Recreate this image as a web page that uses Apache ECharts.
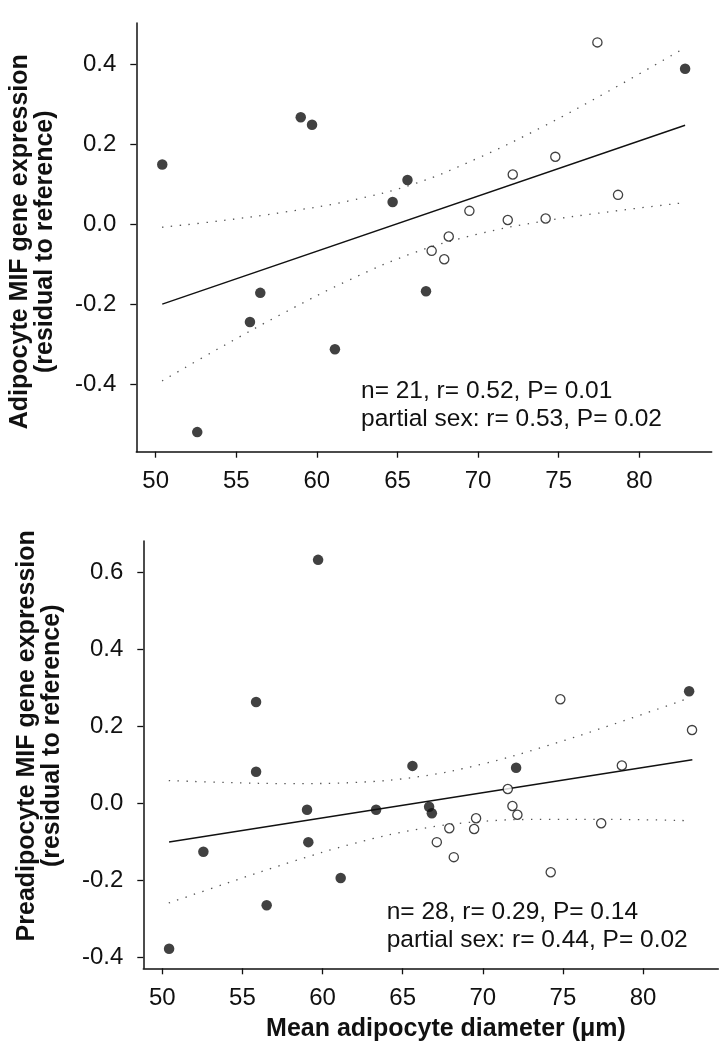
<!DOCTYPE html>
<html>
<head>
<meta charset="utf-8">
<script src="https://cdn.jsdelivr.net/npm/echarts@6/dist/echarts.min.js"></script>
<style>
html,body{margin:0;padding:0;background:#fff;}
#chart{width:722px;height:1050px;}
</style>
</head>
<body>
<div id="chart"></div>
<script>
// ---- tick labels ----
const xTicks = [50, 55, 60, 65, 70, 75, 80];
const topYTicks = [-0.4, -0.2, 0.0, 0.2, 0.4];
const botYTicks = [-0.4, -0.2, 0.0, 0.2, 0.4, 0.6];

// ---- top panel: adipocyte ----
const topFilledX = [50.41, 59.0, 59.7, 64.7, 56.49, 55.85, 61.12, 52.58, 65.62, 66.77, 82.84];
const topFilledY = [0.149, 0.267, 0.248, 0.055, -0.172, -0.245, -0.313, -0.52, 0.11, -0.168, 0.388];
const topOpenX = [77.40, 74.79, 72.15, 78.68, 69.46, 71.84, 74.19, 68.18, 67.12, 67.9];
const topOpenY = [0.454, 0.168, 0.124, 0.073, 0.033, 0.010, 0.014, -0.031, -0.067, -0.088];
const topFitX = [50.41, 82.84];
const topFitY = [-0.200, 0.247];
const topCiX = [50.4, 54, 58, 62, 66, 70, 74, 78, 82.5];
const topUpperY = [-0.008, 0.008, 0.030, 0.058, 0.100, 0.165, 0.243, 0.330, 0.433];
const topLowerY = [-0.392, -0.309, -0.221, -0.140, -0.072, -0.025, 0.007, 0.030, 0.052];

// ---- bottom panel: preadipocyte ----
const botFilledX = [59.72, 55.85, 55.85, 59.03, 63.34, 59.11, 52.56, 61.13, 56.51, 50.42, 65.61, 72.08, 66.65, 66.82, 82.88];
const botFilledY = [0.632, 0.263, 0.082, -0.017, -0.017, -0.101, -0.126, -0.194, -0.265, -0.378, 0.097, 0.092, -0.009, -0.026, 0.291];
const botOpenX = [74.84, 83.06, 78.68, 71.56, 71.85, 72.16, 69.58, 69.46, 67.91, 67.13, 68.19, 77.39, 74.24];
const botOpenY = [0.270, 0.190, 0.098, 0.037, -0.007, -0.030, -0.039, -0.067, -0.065, -0.101, -0.140, -0.052, -0.179];
const botFitX = [50.42, 83.08];
const botFitY = [-0.1005, 0.113];
const botCiX = [50.4, 54, 58, 62, 66, 70, 74, 78, 82.6];
const botUpperY = [0.059, 0.054, 0.051, 0.054, 0.069, 0.102, 0.149, 0.203, 0.269];
const botLowerY = [-0.259, -0.208, -0.153, -0.104, -0.067, -0.047, -0.042, -0.042, -0.045];

// ---- text ----
const topYTitle = 'Adipocyte MIF gene expression\n(residual to reference)';
const botYTitle = 'Preadipocyte MIF gene expression\n(residual to reference)';
const xTitle = 'Mean adipocyte diameter (\u03bcm)';
const topNote = 'n= 21, r= 0.52, P= 0.01\npartial sex: r= 0.53, P= 0.02';
const botNote = 'n= 28, r= 0.29, P= 0.14\npartial sex: r= 0.44, P= 0.02';

const FONT = '"Liberation Sans", Arial, sans-serif';
const INK = '#111';

function zip(xs, ys) { return xs.map((x, i) => [x, ys[i]]); }

function xAxisCfg(idx, min, max) {
  return {
    type: 'value', gridIndex: idx, min: min, max: max,
    axisLine: { show: true, onZero: false, lineStyle: { color: INK, width: 1.5 } },
    axisTick: { show: true, length: 6, inside: false, customValues: xTicks, lineStyle: { color: INK, width: 1.3 } },
    axisLabel: { customValues: xTicks, fontSize: 24, fontFamily: FONT, color: INK, margin: 18 },
    splitLine: { show: false }
  };
}
function yAxisCfg(idx, min, max, ticks) {
  return {
    type: 'value', gridIndex: idx, min: min, max: max,
    axisLine: { show: true, onZero: false, lineStyle: { color: INK, width: 1.5 } },
    axisTick: { show: true, length: 6, inside: false, customValues: ticks, lineStyle: { color: INK, width: 1.3 } },
    axisLabel: { customValues: ticks, fontSize: 24, fontFamily: FONT, color: INK, margin: 20,
      formatter: v => v.toFixed(1) },
    splitLine: { show: false }
  };
}
function filled(ai, xs, ys) {
  return { type: 'scatter', xAxisIndex: ai, yAxisIndex: ai, data: zip(xs, ys), symbol: 'circle', symbolSize: 10.5,
    itemStyle: { color: INK }, z: 5 };
}
function open(ai, xs, ys) {
  return { type: 'scatter', xAxisIndex: ai, yAxisIndex: ai, data: zip(xs, ys), symbol: 'circle', symbolSize: 9.2,
    itemStyle: { color: '#fff', borderColor: INK, borderWidth: 1.3 }, z: 5 };
}
function fit(ai, xs, ys) {
  return { type: 'line', xAxisIndex: ai, yAxisIndex: ai, data: zip(xs, ys), showSymbol: false, symbol: 'none',
    lineStyle: { color: INK, width: 1.4 }, z: 3 };
}
function ci(ai, xs, ys) {
  return { type: 'line', xAxisIndex: ai, yAxisIndex: ai, data: zip(xs, ys), showSymbol: false, symbol: 'none', smooth: 0.4,
    lineStyle: { color: '#555', width: 1.3, type: [1.4, 7.5] }, z: 2 };
}

const chart = echarts.init(document.getElementById('chart'), null, { renderer: 'canvas' });
chart.setOption({
  animation: false,
  backgroundColor: '#fff',
  grid: [
    { left: 136.3, top: 23, width: 575.4, height: 428.7 },
    { left: 143.3, top: 541, width: 575, height: 427.3 }
  ],
  xAxis: [ xAxisCfg(0, 48.8, 84.49), xAxisCfg(1, 48.81, 84.7) ],
  yAxis: [ yAxisCfg(0, -0.569, 0.5025, topYTicks), yAxisCfg(1, -0.4286, 0.681, botYTicks) ],
  series: [
    ci(0, topCiX, topUpperY), ci(0, topCiX, topLowerY), fit(0, topFitX, topFitY),
    filled(0, topFilledX, topFilledY), open(0, topOpenX, topOpenY),
    ci(1, botCiX, botUpperY), ci(1, botCiX, botLowerY), fit(1, botFitX, botFitY),
    filled(1, botFilledX, botFilledY), open(1, botOpenX, botOpenY)
  ],
  graphic: [
    { type: 'text', x: 32.3, y: 241.7, rotation: Math.PI / 2,
      style: { text: topYTitle, fontSize: 25, fontWeight: 'bold', fontFamily: FONT, fill: INK,
        align: 'center', verticalAlign: 'middle', lineHeight: 25 } },
    { type: 'text', x: 39.3, y: 735.8, rotation: Math.PI / 2,
      style: { text: botYTitle, fontSize: 25, fontWeight: 'bold', fontFamily: FONT, fill: INK,
        align: 'center', verticalAlign: 'middle', lineHeight: 25 } },
    { type: 'text', x: 446, y: 1029,
      style: { text: xTitle, fontSize: 25, fontWeight: 'bold', fontFamily: FONT, fill: INK,
        align: 'center', verticalAlign: 'middle' } },
    { type: 'text', x: 361, y: 405.4,
      style: { text: topNote, fontSize: 24.5, fontFamily: FONT, fill: INK,
        align: 'left', verticalAlign: 'middle', lineHeight: 27.7 } },
    { type: 'text', x: 386.7, y: 926,
      style: { text: botNote, fontSize: 24.5, fontFamily: FONT, fill: INK,
        align: 'left', verticalAlign: 'middle', lineHeight: 27.7 } }
  ]
});
</script>
</body>
</html>
